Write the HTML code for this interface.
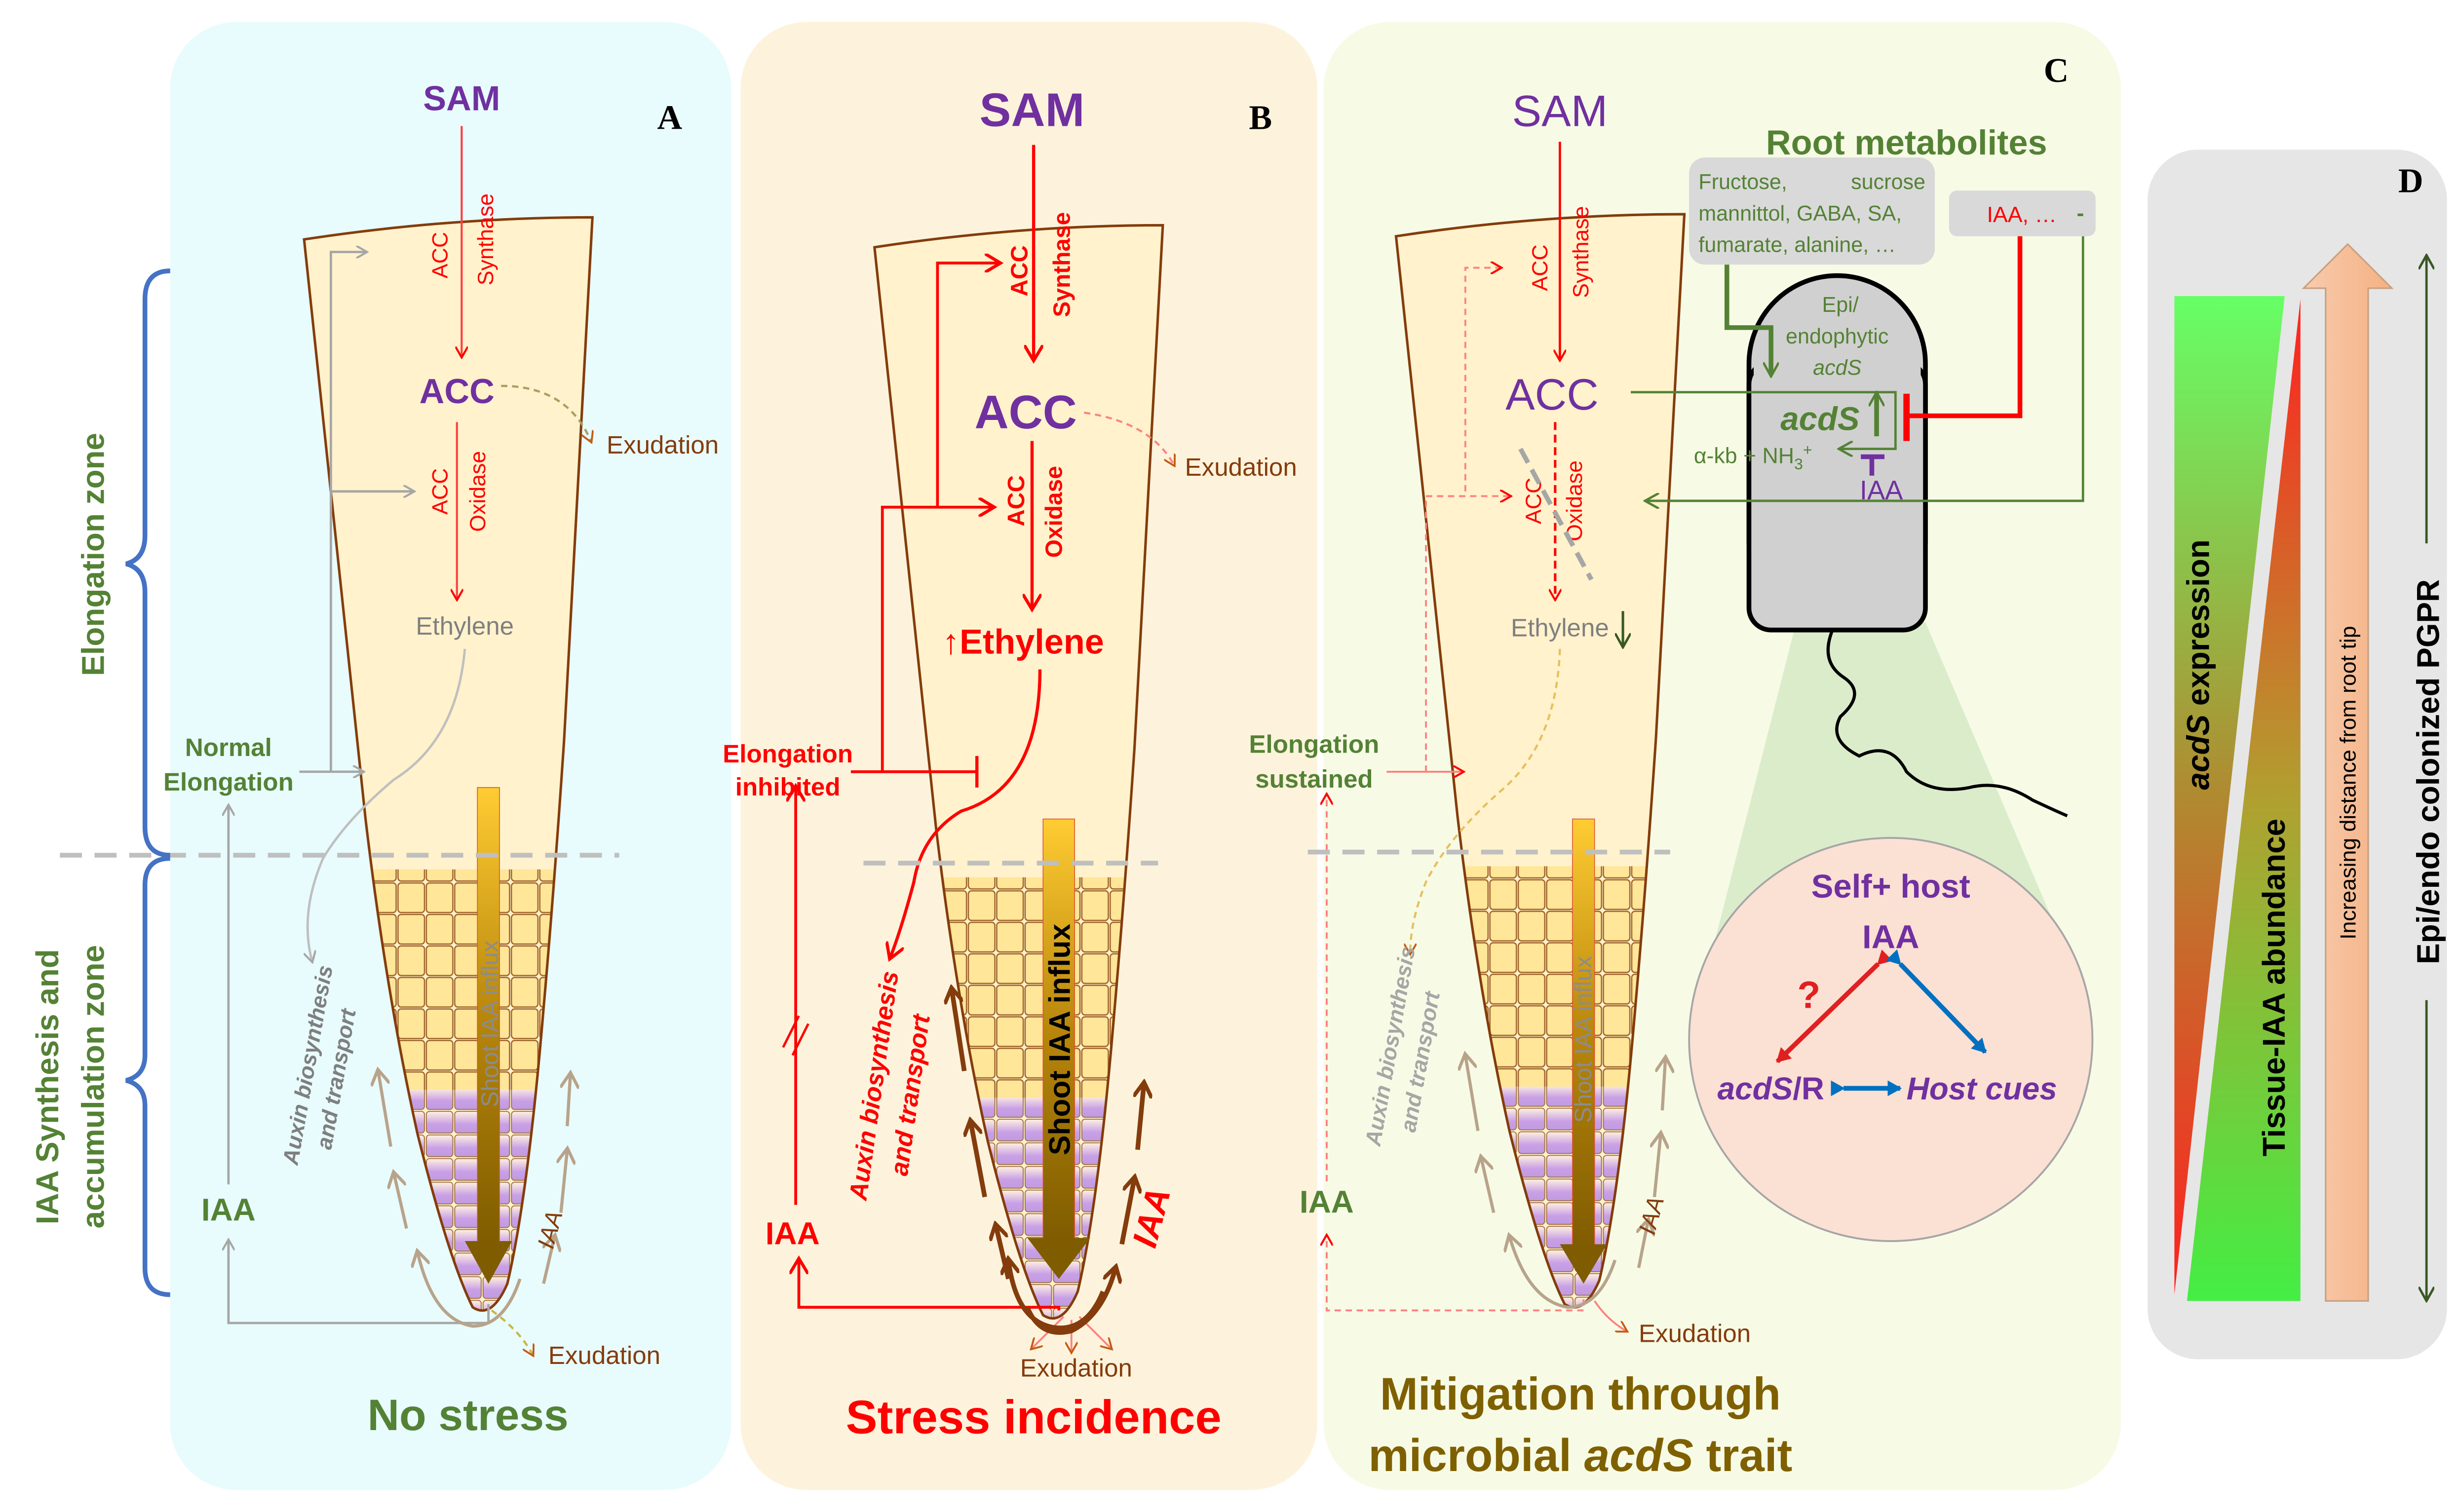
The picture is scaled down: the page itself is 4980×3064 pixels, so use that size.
<!DOCTYPE html>
<html><head><meta charset="utf-8"><style>
html,body{margin:0;padding:0;background:#fff;}
svg{display:block;font-family:"Liberation Sans","DejaVu Sans",sans-serif;}
</style></head><body>
<svg width="4980" height="3064" viewBox="0 0 1560 960" preserveAspectRatio="none" xmlns="http://www.w3.org/2000/svg">
<defs>
<linearGradient id="shoot" x1="0" y1="0" x2="0" y2="1"><stop offset="0" stop-color="#ffcc33"/><stop offset="0.5" stop-color="#b8860b"/><stop offset="1" stop-color="#7f5c00"/></linearGradient>
<linearGradient id="pc" x1="0" y1="0" x2="0" y2="1"><stop offset="0" stop-color="#fff2e0"/><stop offset="0.6" stop-color="#c9a0e6"/><stop offset="1" stop-color="#c09ae0"/></linearGradient>
<pattern id="ycell" width="18" height="20" patternUnits="userSpaceOnUse"><rect x="0.6" y="0.6" width="16.8" height="18.8" rx="2" fill="#ffe699" stroke="#a0642a" stroke-width="0.8"/></pattern>
<pattern id="pcell" width="18" height="15" patternUnits="userSpaceOnUse"><rect x="0.6" y="0.6" width="16.8" height="13.8" rx="2" fill="url(#pc)" stroke="#a07040" stroke-width="0.6"/></pattern>
<clipPath id="rootclip"><path d="M193,152 Q285,138 376,138 L358,470 Q352,560 345,640 Q335,760 322,815 Q312,838 300,830 Q285,800 265,720 Q245,630 232,520 Z"/></clipPath>
<linearGradient id="tri1" x1="0" y1="0" x2="0" y2="1"><stop offset="0" stop-color="#66ff66"/><stop offset="0.5" stop-color="#b08a30"/><stop offset="1" stop-color="#ff2020"/></linearGradient>
<linearGradient id="tri2" x1="0" y1="0" x2="0" y2="1"><stop offset="0" stop-color="#ff2020"/><stop offset="0.5" stop-color="#b0a030"/><stop offset="1" stop-color="#44ee44"/></linearGradient>
<linearGradient id="peach" x1="0" y1="0" x2="1" y2="0"><stop offset="0" stop-color="#f8cbad"/><stop offset="1" stop-color="#f4b183"/></linearGradient>
<marker id="ar" markerWidth="8" markerHeight="8" refX="6" refY="4" orient="auto" markerUnits="userSpaceOnUse"><path d="M0,0 L7,4 L0,8" fill="none" stroke="#ff0000" stroke-width="1.3"/></marker>
<marker id="ag" markerWidth="8" markerHeight="8" refX="6" refY="4" orient="auto" markerUnits="userSpaceOnUse"><path d="M0,0 L7,4 L0,8" fill="none" stroke="#a6a6a6" stroke-width="1.3"/></marker>
<marker id="agr" markerWidth="10" markerHeight="10" refX="8" refY="5" orient="auto" markerUnits="userSpaceOnUse"><path d="M0,0 L9,5 L0,10" fill="none" stroke="#548235" stroke-width="1.5"/></marker>
<marker id="abr" markerWidth="8" markerHeight="8" refX="6" refY="4" orient="auto" markerUnits="userSpaceOnUse"><path d="M0,0 L7,4 L0,8" fill="none" stroke="#c55a11" stroke-width="1.2"/></marker>
<marker id="atan" markerWidth="12" markerHeight="12" refX="9" refY="6" orient="auto" markerUnits="userSpaceOnUse"><path d="M0,0 L10,6 L0,12" fill="none" stroke="#b8a38a" stroke-width="2"/></marker>
<marker id="adb" markerWidth="12" markerHeight="12" refX="9" refY="6" orient="auto" markerUnits="userSpaceOnUse"><path d="M0,0 L10,6 L0,12" fill="none" stroke="#843c0c" stroke-width="2.5"/></marker>
<marker id="arb" markerWidth="12" markerHeight="12" refX="9" refY="6" orient="auto" markerUnits="userSpaceOnUse"><path d="M0,0 L10,6 L0,12" fill="none" stroke="#ff0000" stroke-width="2"/></marker>
<marker id="ared" markerWidth="10" markerHeight="10" refX="8" refY="5" orient="auto" markerUnits="userSpaceOnUse"><path d="M0,0 L9,5 L0,10 Z" fill="#e02020"/></marker>
<marker id="ablue" markerWidth="10" markerHeight="10" refX="8" refY="5" orient="auto" markerUnits="userSpaceOnUse"><path d="M0,0 L9,5 L0,10 Z" fill="#0070c0"/></marker>
<marker id="adg" markerWidth="10" markerHeight="10" refX="8" refY="5" orient="auto" markerUnits="userSpaceOnUse"><path d="M0,0 L9,5 L0,10" fill="none" stroke="#385723" stroke-width="1.5"/></marker>
<g id="root">
<path d="M193,152 Q285,138 376,138 L358,470 Q352,560 345,640 Q335,760 322,815 Q312,838 300,830 Q285,800 265,720 Q245,630 232,520 Z" fill="#fff2cc"/>
<g clip-path="url(#rootclip)">
<rect x="180" y="552" width="200" height="140" fill="url(#ycell)"/>
<rect x="180" y="692" width="200" height="150" fill="url(#pcell)"/>
</g>
<path d="M193,152 Q285,138 376,138 L358,470 Q352,560 345,640 Q335,760 322,815 Q312,838 300,830 Q285,800 265,720 Q245,630 232,520 Z" fill="none" stroke="#843c0c" stroke-width="1.6"/>
</g>
</defs>

<!-- Panel backgrounds -->
<rect x="108" y="14" width="356" height="932" rx="42" fill="#e8fbfd"/>
<rect x="470" y="14" width="366" height="932" rx="42" fill="#fdf3dc"/>
<rect x="840" y="14" width="506" height="932" rx="42" fill="#f7fbe6"/>
<rect x="1363" y="95" width="190" height="768" rx="32" fill="#e6e6e6"/>

<!-- ========== Panel A ========== -->
<use href="#root"/>
<text x="425" y="82" font-family="Liberation Serif,serif" font-weight="bold" font-size="22" text-anchor="middle">A</text>
<text x="293" y="70" font-size="22" font-weight="bold" fill="#7030a0" text-anchor="middle">SAM</text>
<line x1="293" y1="80" x2="293" y2="226" stroke="#ff4040" stroke-width="1.3" marker-end="url(#ar)"/>
<text transform="translate(284,162) rotate(-90)" font-size="14" fill="#ff0000" text-anchor="middle">ACC</text>
<text transform="translate(313,152) rotate(-90)" font-size="14" fill="#ff0000" text-anchor="middle">Synthase</text>
<text x="290" y="256" font-size="22" font-weight="bold" fill="#7030a0" text-anchor="middle">ACC</text>
<path d="M318,245 Q360,245 375,280" fill="none" stroke="#a6a060" stroke-width="1.4" stroke-dasharray="4,3" marker-end="url(#abr)"/>
<text x="385" y="288" font-size="16" fill="#843c0c">Exudation</text>
<line x1="290" y1="268" x2="290" y2="380" stroke="#ff4040" stroke-width="1.3" marker-end="url(#ar)"/>
<text transform="translate(284,312) rotate(-90)" font-size="14" fill="#ff0000" text-anchor="middle">ACC</text>
<text transform="translate(308,312) rotate(-90)" font-size="14" fill="#ff0000" text-anchor="middle">Oxidase</text>
<text x="295" y="403" font-size="16" fill="#7f7f7f" text-anchor="middle">Ethylene</text>
<!-- gray feedback -->
<polyline points="210,490 210,160 232,160" fill="none" stroke="#a6a6a6" stroke-width="1.5" marker-end="url(#ag)"/>
<line x1="210" y1="312" x2="262" y2="312" stroke="#a6a6a6" stroke-width="1.5" marker-end="url(#ag)"/>
<line x1="190" y1="490" x2="230" y2="490" stroke="#a6a6a6" stroke-width="1.5" marker-end="url(#ag)"/>
<path d="M295,412 Q290,470 250,495 Q220,520 205,545 Q190,580 198,610" fill="none" stroke="#bfbfbf" stroke-width="1.5" marker-end="url(#ag)"/>
<text x="145" y="480" font-size="16" font-weight="bold" fill="#548235" text-anchor="middle">Normal</text>
<text x="145" y="502" font-size="16" font-weight="bold" fill="#548235" text-anchor="middle">Elongation</text>
<line x1="145" y1="752" x2="145" y2="512" stroke="#a6a6a6" stroke-width="1.5" marker-end="url(#ag)"/>
<text x="145" y="775" font-size="20" font-weight="bold" fill="#548235" text-anchor="middle">IAA</text>
<polyline points="310,828 310,840 145,840 145,788" fill="none" stroke="#a6a6a6" stroke-width="1.5" marker-end="url(#ag)"/>
<path d="M312,832 Q330,845 338,860" fill="none" stroke="#c9b840" stroke-width="1.4" stroke-dasharray="4,3" marker-end="url(#abr)"/>
<text x="348" y="866" font-size="16" fill="#843c0c">Exudation</text>
<text transform="translate(200,677) rotate(-80)" font-size="14" font-weight="bold" font-style="italic" fill="#7f7f7f" text-anchor="middle">Auxin biosynthesis</text>
<text transform="translate(218,686) rotate(-80)" font-size="14" font-weight="bold" font-style="italic" fill="#7f7f7f" text-anchor="middle">and transport</text>
<!-- tan arrows A -->
<g stroke="#b8a38a" stroke-width="2" fill="none" marker-end="url(#atan)">
<line x1="248" y1="728" x2="240" y2="680"/>
<line x1="258" y1="780" x2="250" y2="745"/>
<path d="M330,812 Q320,842 300,842 Q275,838 265,795"/>
<line x1="345" y1="815" x2="352" y2="785"/>
<line x1="356" y1="770" x2="360" y2="730"/>
<line x1="360" y1="715" x2="362" y2="682"/>
</g>
<text transform="translate(354,782) rotate(-75)" font-size="15" font-style="italic" fill="#843c0c" text-anchor="middle">IAA</text>
<rect x="303" y="500" width="14" height="290" fill="url(#shoot)" stroke="#e05030" stroke-width="0.5"/>
<polygon points="295,788 325,788 310,815" fill="#7f5c00"/>
<text transform="translate(316,650) rotate(-90)" font-size="15" fill="#8c8c8c" text-anchor="middle">Shoot IAA influx</text>
<!-- dashed line and brace -->
<line x1="38" y1="543" x2="393" y2="543" stroke="#bfbfbf" stroke-width="3" stroke-dasharray="14,8"/>
<path d="M108,172 Q92,172 92,190 L92,340 Q92,355 80,358 Q92,361 92,376 L92,525 Q92,543 108,543" fill="none" stroke="#4472c4" stroke-width="3"/>
<path d="M108,545 Q92,545 92,562 L92,670 Q92,683 80,686 Q92,689 92,702 L92,805 Q92,822 108,822" fill="none" stroke="#4472c4" stroke-width="3"/>
<text transform="translate(66,352) rotate(-90)" font-size="20" font-weight="bold" fill="#548235" text-anchor="middle">Elongation zone</text>
<text transform="translate(37,690) rotate(-90)" font-size="20" font-weight="bold" fill="#548235" text-anchor="middle">IAA Synthesis and</text>
<text transform="translate(66,690) rotate(-90)" font-size="20" font-weight="bold" fill="#548235" text-anchor="middle">accumulation zone</text>
<text x="297" y="908" font-size="28" font-weight="bold" fill="#548235" text-anchor="middle">No stress</text>

<!-- ========== Panel B ========== -->
<use href="#root" transform="translate(362,5)"/>
<text x="800" y="82" font-family="Liberation Serif,serif" font-weight="bold" font-size="22" text-anchor="middle">B</text>
<text x="655" y="80" font-size="30" font-weight="bold" fill="#7030a0" text-anchor="middle">SAM</text>
<line x1="656" y1="92" x2="656" y2="228" stroke="#ff0000" stroke-width="2" marker-end="url(#arb)"/>
<text transform="translate(652,172) rotate(-90)" font-size="15" font-weight="bold" fill="#ff0000" text-anchor="middle">ACC</text>
<text transform="translate(679,168) rotate(-90)" font-size="15" font-weight="bold" fill="#ff0000" text-anchor="middle">Synthase</text>
<text x="651" y="272" font-size="30" font-weight="bold" fill="#7030a0" text-anchor="middle">ACC</text>
<path d="M688,262 Q730,268 745,295" fill="none" stroke="#ff8080" stroke-width="1.3" stroke-dasharray="4,3" marker-end="url(#abr)"/>
<text x="752" y="302" font-size="16" fill="#843c0c">Exudation</text>
<line x1="655" y1="280" x2="655" y2="386" stroke="#ff0000" stroke-width="2" marker-end="url(#arb)"/>
<text transform="translate(650,318) rotate(-90)" font-size="15" font-weight="bold" fill="#ff0000" text-anchor="middle">ACC</text>
<text transform="translate(674,325) rotate(-90)" font-size="15" font-weight="bold" fill="#ff0000" text-anchor="middle">Oxidase</text>
<text x="598" y="415" font-size="22" font-weight="bold" fill="#ff0000">↑Ethylene</text>
<polyline points="560,490 560,322 595,322 595,167 634,167" fill="none" stroke="#ff0000" stroke-width="1.8" marker-end="url(#arb)"/>
<line x1="595" y1="322" x2="630" y2="322" stroke="#ff0000" stroke-width="1.8" marker-end="url(#arb)"/>
<line x1="540" y1="490" x2="620" y2="490" stroke="#ff0000" stroke-width="1.8"/>
<line x1="620" y1="480" x2="620" y2="500" stroke="#ff0000" stroke-width="2"/>
<path d="M660,425 Q660,500 610,515 Q585,530 580,560 Q572,590 565,608" fill="none" stroke="#ff0000" stroke-width="2" marker-end="url(#arb)"/>
<text x="500" y="484" font-size="16" font-weight="bold" fill="#ff0000" text-anchor="middle">Elongation</text>
<text x="500" y="505" font-size="16" font-weight="bold" fill="#ff0000" text-anchor="middle">inhibited</text>
<line x1="505" y1="765" x2="505" y2="500" stroke="#ff0000" stroke-width="1.8" marker-end="url(#arb)"/>
<line x1="497" y1="665" x2="507" y2="645" stroke="#ff0000" stroke-width="1.5"/>
<line x1="503" y1="670" x2="513" y2="650" stroke="#ff0000" stroke-width="1.5"/>
<text x="503" y="790" font-size="20" font-weight="bold" fill="#ff0000" text-anchor="middle">IAA</text>
<polyline points="672,832 672,830 507,830 507,800" fill="none" stroke="#ff0000" stroke-width="1.8" marker-end="url(#arb)"/>
<g stroke="#ff8080" stroke-width="1.2" fill="none" marker-end="url(#abr)">
<line x1="675" y1="836" x2="655" y2="856"/><line x1="680" y1="838" x2="680" y2="858"/><line x1="685" y1="836" x2="705" y2="856"/>
</g>
<text x="683" y="874" font-size="16" fill="#843c0c" text-anchor="middle">Exudation</text>
<text transform="translate(560,690) rotate(-82)" font-size="16" font-weight="bold" font-style="italic" fill="#ff0000" text-anchor="middle">Auxin biosynthesis</text>
<text transform="translate(583,696) rotate(-82)" font-size="16" font-weight="bold" font-style="italic" fill="#ff0000" text-anchor="middle">and transport</text>
<g stroke="#843c0c" stroke-width="3" fill="none" marker-end="url(#adb)">
<line x1="612" y1="680" x2="604" y2="628"/>
<line x1="625" y1="760" x2="616" y2="712"/>
<line x1="640" y1="812" x2="632" y2="778"/>
<path d="M700,820 Q690,845 670,843 Q645,840 640,800"/>
<path d="M652,830 Q660,850 680,845 Q700,835 708,805"/>
<line x1="712" y1="790" x2="720" y2="748"/>
<line x1="722" y1="730" x2="726" y2="688"/>
</g>
<text transform="translate(738,775) rotate(-75)" font-size="22" font-weight="bold" font-style="italic" fill="#ff0000" text-anchor="middle">IAA</text>
<rect x="662" y="520" width="20" height="268" fill="url(#shoot)" stroke="#e05030" stroke-width="0.5"/>
<polygon points="652,786 692,786 672,812" fill="#7f5c00"/>
<text transform="translate(679,660) rotate(-90)" font-size="19" font-weight="bold" fill="#000" text-anchor="middle">Shoot IAA influx</text>
<line x1="548" y1="548" x2="735" y2="548" stroke="#bfbfbf" stroke-width="3" stroke-dasharray="14,8"/>
<text x="656" y="910" font-size="30" font-weight="bold" fill="#ff0000" text-anchor="middle">Stress incidence</text>

<!-- ========== Panel C ========== -->
<use href="#root" transform="translate(693,-2)"/>
<text x="1305" y="52" font-family="Liberation Serif,serif" font-weight="bold" font-size="22" text-anchor="middle">C</text>
<text x="990" y="80" font-size="28" fill="#7030a0" text-anchor="middle">SAM</text>
<line x1="990" y1="90" x2="990" y2="228" stroke="#ff0000" stroke-width="1.5" marker-end="url(#ar)"/>
<text transform="translate(982,170) rotate(-90)" font-size="14" fill="#ff0000" text-anchor="middle">ACC</text>
<text transform="translate(1008,160) rotate(-90)" font-size="14" fill="#ff0000" text-anchor="middle">Synthase</text>
<text x="985" y="260" font-size="28" fill="#7030a0" text-anchor="middle">ACC</text>
<line x1="987" y1="268" x2="987" y2="380" stroke="#ff0000" stroke-width="1.6" stroke-dasharray="5,3" marker-end="url(#ar)"/>
<text transform="translate(978,318) rotate(-90)" font-size="14" fill="#ff0000" text-anchor="middle">ACC</text>
<text transform="translate(1004,318) rotate(-90)" font-size="14" fill="#ff0000" text-anchor="middle">Oxidase</text>
<line x1="965" y1="285" x2="1010" y2="368" stroke="#a6a6a6" stroke-width="3" stroke-dasharray="10,5"/>
<text x="990" y="404" font-size="16" fill="#7f7f7f" text-anchor="middle">Ethylene</text>
<line x1="1030" y1="388" x2="1030" y2="410" stroke="#385723" stroke-width="1.6" marker-end="url(#adg)"/>
<polyline points="905,490 905,315 930,315 930,170 952,170" fill="none" stroke="#ff8080" stroke-width="1.2" stroke-dasharray="4,3" marker-end="url(#ar)"/>
<line x1="905" y1="315" x2="958" y2="315" stroke="#ff8080" stroke-width="1.2" stroke-dasharray="4,3" marker-end="url(#ar)"/>
<line x1="880" y1="490" x2="928" y2="490" stroke="#ff8080" stroke-width="1.2" marker-end="url(#ar)"/>
<path d="M990,412 Q988,470 955,500 Q920,530 905,560 Q895,585 895,605" fill="none" stroke="#e6c060" stroke-width="1.4" stroke-dasharray="4,3" marker-end="url(#abr)"/>
<text x="834" y="478" font-size="16" font-weight="bold" fill="#548235" text-anchor="middle">Elongation</text>
<text x="834" y="500" font-size="16" font-weight="bold" fill="#548235" text-anchor="middle">sustained</text>
<line x1="842" y1="750" x2="842" y2="505" stroke="#ff8080" stroke-width="1.2" stroke-dasharray="4,3" marker-end="url(#ar)"/>
<text x="842" y="770" font-size="20" font-weight="bold" fill="#548235" text-anchor="middle">IAA</text>
<polyline points="1005,825 1005,832 842,832 842,785" fill="none" stroke="#ff8080" stroke-width="1.2" stroke-dasharray="4,3" marker-end="url(#ar)"/>
<path d="M1012,826 Q1020,838 1032,845" fill="none" stroke="#ff8080" stroke-width="1.2" marker-end="url(#abr)"/>
<text x="1040" y="852" font-size="16" fill="#843c0c">Exudation</text>
<text transform="translate(887,665) rotate(-80)" font-size="14" font-weight="bold" font-style="italic" fill="#a6a6a6" text-anchor="middle">Auxin biosynthesis</text>
<text transform="translate(906,675) rotate(-80)" font-size="14" font-weight="bold" font-style="italic" fill="#a6a6a6" text-anchor="middle">and transport</text>
<g stroke="#b8a38a" stroke-width="2" fill="none" marker-end="url(#atan)">
<line x1="938" y1="718" x2="930" y2="670"/>
<line x1="948" y1="770" x2="940" y2="735"/>
<path d="M1025,800 Q1015,830 995,830 Q970,826 958,785"/>
<line x1="1040" y1="805" x2="1046" y2="775"/>
<line x1="1050" y1="760" x2="1054" y2="720"/>
<line x1="1055" y1="705" x2="1057" y2="672"/>
</g>
<text transform="translate(1053,773) rotate(-75)" font-size="15" font-style="italic" fill="#843c0c" text-anchor="middle">IAA</text>
<rect x="998" y="520" width="14" height="272" fill="url(#shoot)" stroke="#e05030" stroke-width="0.5"/>
<polygon points="990,790 1020,790 1005,815" fill="#7f5c00"/>
<text transform="translate(1010,660) rotate(-90)" font-size="15" fill="#8c8c8c" text-anchor="middle">Shoot IAA influx</text>
<line x1="830" y1="541" x2="1060" y2="541" stroke="#bfbfbf" stroke-width="3" stroke-dasharray="14,8"/>
<text x="1003" y="895" font-size="29" font-weight="bold" fill="#7f6000" text-anchor="middle">Mitigation through</text>
<text x="1003" y="934" font-size="29" font-weight="bold" fill="#7f6000" text-anchor="middle">microbial <tspan font-style="italic">acdS</tspan> trait</text>

<!-- Root metabolites + bacterium -->
<text x="1210" y="98" font-size="22" font-weight="bold" fill="#548235" text-anchor="middle">Root metabolites</text>
<rect x="1072" y="100" width="156" height="68" rx="10" fill="#d9d9d9"/>
<text x="1078" y="120" font-size="13.5" fill="#548235">Fructose,</text>
<text x="1222" y="120" font-size="13.5" fill="#548235" text-anchor="end">sucrose</text>
<text x="1078" y="140" font-size="13.5" fill="#548235">mannittol, GABA, SA,</text>
<text x="1078" y="160" font-size="13.5" fill="#548235">fumarate, alanine, …</text>
<rect x="1237" y="121" width="93" height="29" rx="5" fill="#d9d9d9"/>
<text x="1261" y="141" font-size="14" fill="#ff0000">IAA, …</text>
<text x="1318" y="140" font-size="14" font-weight="bold" fill="#548235">-</text>
<!-- cone -->
<polygon points="1140,395 1222,395 1318,620 1080,630" fill="#c5e0b4" opacity="0.55"/>
<circle cx="1200" cy="660" r="128" fill="#fbe0d4" stroke="#a6a6a6" stroke-width="1.2"/>
<rect x="1110" y="175" width="112" height="225" rx="56" ry="56" fill="#d0d0d0" stroke="#000" stroke-width="3"/>
<rect x="1110" y="230" width="112" height="170" rx="14" fill="#d0d0d0" stroke="#000" stroke-width="3"/>
<rect x="1113" y="220" width="106" height="30" fill="#d0d0d0"/>
<path d="M1163,400 Q1155,420 1170,430 Q1185,440 1168,455 Q1160,470 1180,480 Q1200,470 1210,490 Q1225,505 1250,500 Q1270,495 1290,508 Q1305,515 1312,518" fill="none" stroke="#000" stroke-width="2"/>
<text x="1168" y="198" font-size="13.5" fill="#548235" text-anchor="middle">Epi/</text>
<text x="1166" y="218" font-size="13.5" fill="#548235" text-anchor="middle">endophytic</text>
<text x="1166" y="238" font-size="13.5" font-style="italic" fill="#548235" text-anchor="middle">acdS</text>
<polyline points="1096,168 1096,208 1124,208 1124,238" fill="none" stroke="#548235" stroke-width="3" marker-end="url(#agr)"/>
<polyline points="1035,249 1203,249 1203,285 1168,285" fill="none" stroke="#548235" stroke-width="1.5" marker-end="url(#agr)"/>
<text x="1130" y="273" font-size="21" font-weight="bold" font-style="italic" fill="#548235">acdS</text>
<line x1="1191" y1="277" x2="1191" y2="250" stroke="#548235" stroke-width="3" marker-end="url(#agr)"/>
<text x="1075" y="294" font-size="14" fill="#548235">α-kb + NH<tspan font-size="10" dy="4">3</tspan><tspan font-size="10" dy="-9">+</tspan></text>
<polyline points="1282,150 1282,264 1212,264" fill="none" stroke="#ff0000" stroke-width="3"/>
<line x1="1210" y1="250" x2="1210" y2="280" stroke="#ff0000" stroke-width="4"/>
<line x1="1188" y1="290" x2="1188" y2="302" stroke="#7030a0" stroke-width="3"/>
<line x1="1181" y1="290" x2="1196" y2="290" stroke="#7030a0" stroke-width="3"/>
<text x="1194" y="317" font-size="17" fill="#7030a0" text-anchor="middle">IAA</text>
<polyline points="1322,150 1322,318 1045,318" fill="none" stroke="#548235" stroke-width="1.5" marker-end="url(#agr)"/>
<!-- circle contents -->
<text x="1200" y="570" font-size="21" font-weight="bold" fill="#7030a0" text-anchor="middle">Self+ host</text>
<text x="1200" y="602" font-size="21" font-weight="bold" fill="#7030a0" text-anchor="middle">IAA</text>
<line x1="1192" y1="612" x2="1128" y2="674" stroke="#e02020" stroke-width="3" marker-end="url(#ared)" marker-start="url(#ared)"/>
<line x1="1206" y1="612" x2="1260" y2="668" stroke="#0070c0" stroke-width="3" marker-end="url(#ablue)" marker-start="url(#ablue)"/>
<text x="1148" y="640" font-size="24" font-weight="bold" fill="#e02020" text-anchor="middle">?</text>
<text x="1090" y="698" font-size="20" font-weight="bold" fill="#7030a0"><tspan font-style="italic">acdS</tspan>/R</text>
<line x1="1170" y1="691" x2="1206" y2="691" stroke="#0070c0" stroke-width="3" marker-end="url(#ablue)" marker-start="url(#ablue)"/>
<text x="1210" y="698" font-size="20" font-weight="bold" font-style="italic" fill="#7030a0">Host cues</text>

<!-- ========== Panel D ========== -->
<text x="1530" y="122" font-family="Liberation Serif,serif" font-weight="bold" font-size="22" text-anchor="middle">D</text>
<polygon points="1380,188 1450,188 1380,822" fill="url(#tri1)"/>
<polygon points="1460,190 1460,826 1388,826" fill="url(#tri2)"/>
<text transform="translate(1402,422) rotate(-90)" font-size="20" font-weight="bold" fill="#000" text-anchor="middle"><tspan font-style="italic">acdS</tspan> expression</text>
<text transform="translate(1450,627) rotate(-90)" font-size="20" font-weight="bold" fill="#000" text-anchor="middle">Tissue-IAA  abundance</text>
<polygon points="1476,826 1503,826 1503,183 1518,183 1490,155 1462,183 1476,183" fill="url(#peach)" stroke="#c9a080" stroke-width="1"/>
<text transform="translate(1495,497) rotate(-90)" font-size="14" fill="#000" text-anchor="middle">Increasing distance from root tip</text>
<line x1="1540" y1="490" x2="1540" y2="163" stroke="#385723" stroke-width="1.5" marker-end="url(#adg)"/>
<line x1="1540" y1="490" x2="1540" y2="825" stroke="#385723" stroke-width="1.5" marker-end="url(#adg)"/>
<rect x="1528" y="345" width="24" height="290" fill="#e6e6e6"/>
<text transform="translate(1548,490) rotate(-90)" font-size="20" font-weight="bold" fill="#000" text-anchor="middle">Epi/endo colonized PGPR</text>
</svg>
</body></html>
